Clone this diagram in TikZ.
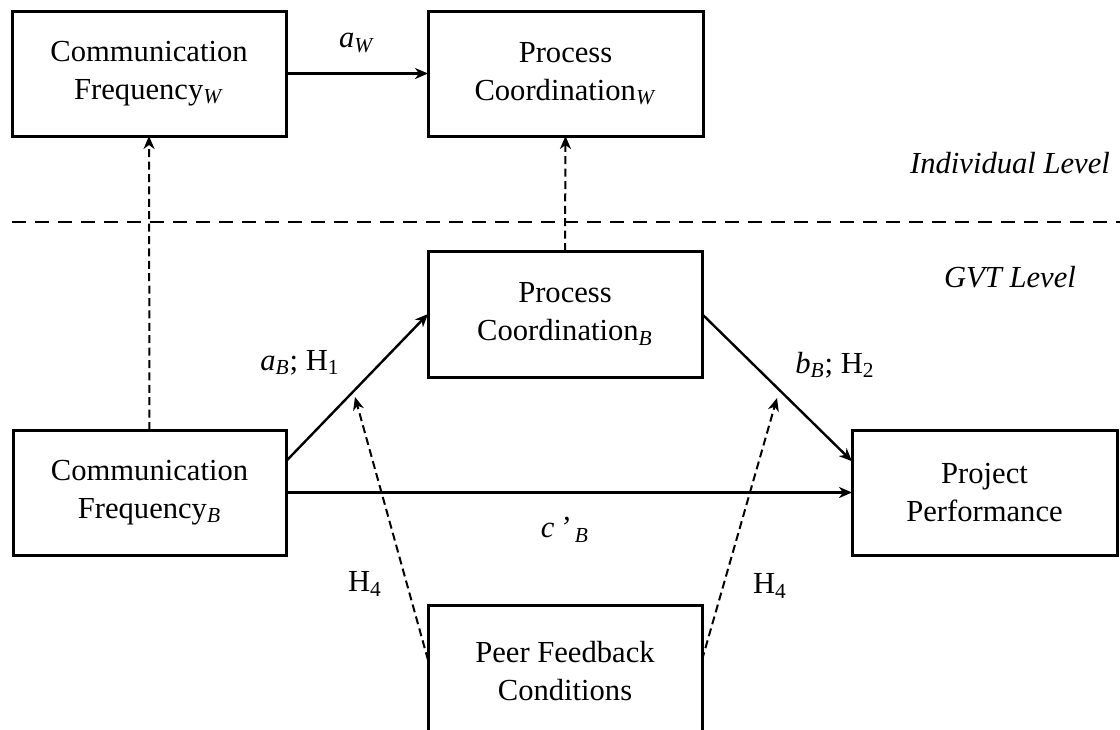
\documentclass[tikz,border=0pt]{standalone}
\usepackage{fontspec}
\setmainfont{Liberation Serif}
\usetikzlibrary{arrows.meta,calc}
\begin{document}
\begin{tikzpicture}[x=0.5pt,y=-0.5pt,
  txt/.style={font=\fontsize{15.3}{19}\selectfont, align=center, inner sep=0pt},
  box/.style={txt, draw, line width=1.5pt, inner sep=0pt, outer sep=0pt, minimum width=137pt, minimum height=62.5pt},
  tip/.style={-{Stealth[length=6.5pt,width=5.5pt,inset=2pt]}},
  solidarr/.style={tip, line width=1.2pt},
  dasharr/.style={tip, line width=1pt, dash pattern=on 4pt off 2.2pt},
  lvl/.style={txt, font=\fontsize{15.3}{19}\selectfont\itshape}
]
\useasboundingbox (0,0) rectangle (1120,729);
\clip (0,0) rectangle (1120,729);

% boxes
\node[box] (cfw) at (149,73.5) {Communication\\Frequency\textsubscript{\textit{W}}};
\node[box, minimum width=137.5pt] (pcw) at (565.5,73.5) {Process\\Coordination\textsubscript{\textit{W}}};
\node[box, minimum height=63pt] (pcb) at (565,314) {Process\\Coordination\textsubscript{\textit{B}}};
\node[box, minimum width=136.5pt] (cfb) at (149.5,492.5) {Communication\\Frequency\textsubscript{\textit{B}}};
\node[box, minimum width=132.5pt] (pp) at (984.5,492.5) {Project\\Performance};
\node[box, minimum height=66pt] (pfc) at (565,671) {Peer Feedback\\Conditions};

% level separator
\coordinate (sepL) at (12,222);
\coordinate (sepR) at (1120,222);
\draw[line width=1.3pt, dash pattern=on 7pt off 4.5pt] (sepL) -- (sepR);
\node[lvl] (ind) at (1010,163) {Individual Level};
\node[lvl] (gvt) at (1010,277) {GVT Level};

% within-level path
\draw[solidarr] (cfw.east) -- (pcw.west);
\node[txt] (aw) at (357,43) {\textit{a}\textsubscript{\textit{W}}};

% cross-level dashed arrows
\draw[dasharr] (cfb.north) -- (cfw.south);
\draw[dasharr] (pcb.north) -- (pcw.south);

% between-level paths
\coordinate (abStart) at ($(cfb.north east)!0.25!(cfb.south east)$);
\coordinate (bbEnd) at ($(pp.north west)!0.25!(pp.south west)$);
\draw[solidarr] (abStart) -- (pcb.west);
\draw[solidarr] (pcb.east) -- (bbEnd);
\draw[solidarr] (cfb.east) -- (pp.west);

\node[txt] (ab) at (300,363) {\textit{a}\textsubscript{\textit{B}}; H\textsubscript{1}};
\node[txt] (bb) at (835,365) {\textit{b}\textsubscript{\textit{B}}; H\textsubscript{2}};
\node[txt] (cb) at (565,530) {\textit{c\,'\,}\textsubscript{\textit{B}}};

% moderation arrows
\coordinate (pfcL) at ($(pfc.north west)+(0,55)$);
\coordinate (pfcR) at ($(pfc.north east)+(0,55)$);
\coordinate (m1) at (355,397);
\coordinate (m2) at (777,398);
\draw[dasharr] (pfcL) -- (m1);
\draw[dasharr] (pfcR) -- (m2);
\node[txt] (h4a) at (365,584) {H\textsubscript{4}};
\node[txt] (h4b) at (770,586) {H\textsubscript{4}};
\end{tikzpicture}
\end{document}
